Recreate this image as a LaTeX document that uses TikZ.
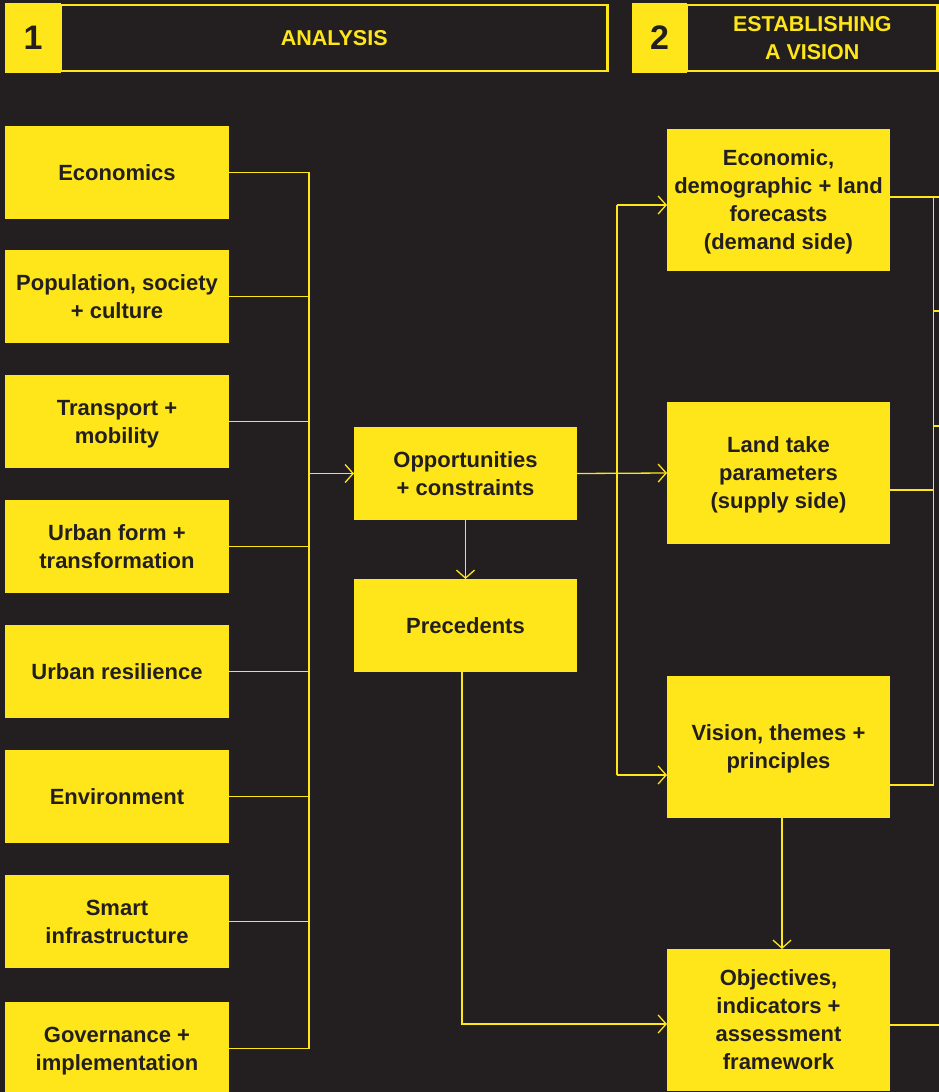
\documentclass[tikz,border=0pt]{standalone}
\usepackage{fontspec}
\setmainfont{Liberation Sans}
\usetikzlibrary{arrows.meta}
\definecolor{ybg}{HTML}{FFE61A}
\definecolor{dbg}{HTML}{231F20}
\begin{document}
\begin{tikzpicture}[x=1pt,y=-1pt,
  box/.style={fill=ybg, text=dbg, font=\fontsize{22}{28}\selectfont\bfseries, align=center,
    inner sep=0pt, outer sep=0pt, minimum width=224pt, minimum height=93pt, text depth=0pt},
  midbox/.style={box, minimum width=223pt},
  tallbox/.style={box, minimum width=223pt, minimum height=142pt},
  numbox/.style={fill=ybg, text=dbg, font=\fontsize{34}{34}\selectfont\bfseries, inner sep=0pt, outer sep=0pt},
  headbox/.style={draw=ybg, line width=2.5pt, fill=dbg, text=ybg, font=\fontsize{21.5}{28}\selectfont\bfseries, align=center, inner sep=0pt},
  conn/.style={draw=ybg, line width=1.3pt},
  arr/.style={conn, -{Straight Barb[length=8pt,width=18pt,line width=1.3pt]}},
]
\useasboundingbox (0,0) rectangle (939,1092);
\clip (0,0) rectangle (939,1092);
\fill[dbg] (0,0) rectangle (939,1092);

% headers
\node[headbox, minimum width=546.5pt, minimum height=66pt] (h1) at (334.25,38) {ANALYSIS};
\node[numbox, minimum width=56pt, minimum height=69.5pt] (n1) at (33,37.75) {1};
\node[headbox, minimum width=250.5pt, minimum height=66pt] (h2) at (812.25,38) {ESTABLISHING\\A VISION};
\node[numbox, minimum width=55pt, minimum height=69.5pt] (n2) at (659.5,37.75) {2};

% left column
\node[box] (eco) at (117,172.5) {Economics};
\node[box] (pop) at (117,296.5) {Population, society\\+ culture};
\node[box] (tra) at (117,421.5) {Transport +\\mobility};
\node[box] (urb) at (117,546.5) {Urban form +\\transformation};
\node[box] (res) at (117,671.5) {Urban resilience};
\node[box] (env) at (117,796.5) {Environment};
\node[box] (sma) at (117,921.5) {Smart\\infrastructure};
\node[box] (gov) at (117,1048.5) {Governance +\\implementation};

% middle column
\node[midbox] (opp) at (465.5,473.5) {Opportunities\\+ constraints};
\node[midbox] (pre) at (465.5,625.5) {Precedents};

% right column
\node[tallbox] (fore) at (778.5,200) {Economic,\\demographic + land\\forecasts\\(demand side)};
\node[tallbox] (land) at (778.5,473) {Land take\\parameters\\(supply side)};
\node[tallbox] (vis) at (778.5,747) {Vision, themes +\\principles};
\node[tallbox] (obj) at (778.5,1020) {Objectives,\\indicators +\\assessment\\framework};

% bus on the left
\coordinate (busT) at (309,172.5);
\coordinate (busB) at (309,1048.5);
\draw[conn] (eco.east) -- (busT) -- (busB) -- (gov.east);
\foreach \n in {pop,tra,urb,res,env,sma}
  \draw[conn] (\n.east) -- (\n.east -| busT);
\draw[arr] (busT |- opp.west) -- (opp.west);

% opportunities
\draw[arr] (opp.south) -- (pre.north);
\coordinate (vT) at (617,205);
\coordinate (vB) at (617,775);
\draw[arr] (opp.east) -- (land.west);
\draw[conn] (vT) -- (vB);
\draw[arr] (vT) -- (vT -| fore.west);
\draw[arr] (vB) -- (vB -| vis.west);

% vision to objectives
\draw[arr] (782,818) -- (782,949);

% precedents to objectives
\coordinate (pcorner) at (462,1024);
\draw[arr] (462,672) -- (pcorner) -- (pcorner -| obj.west);

% right-side connectors
\coordinate (rT) at (933.7,197);
\coordinate (rB) at (933.7,785);
\draw[conn] (890,197) -- (rT) -- (939.5,197);
\draw[conn] (rT) -- (rB) -- (890,785);
\draw[conn] (890,490) -- (933.7,490);
\draw[conn] (933.7,311) -- (939.5,311);
\draw[conn] (933.7,426) -- (939.5,426);
\draw[conn] (890,1025) -- (939.5,1025);
\end{tikzpicture}
\end{document}
